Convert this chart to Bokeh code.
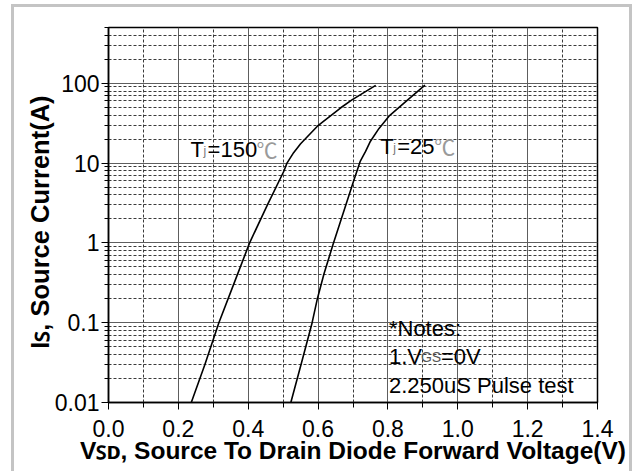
from bokeh.plotting import figure
from bokeh.models import Range1d, FixedTicker, CustomJSTickFormatter, Label, ColumnDataSource
from bokeh.embed import file_html
from bokeh.resources import INLINE

# ---- data ----
V150 = [0.237, 0.276, 0.316, 0.358, 0.404, 0.455, 0.502, 0.511, 0.530, 0.550, 0.598, 0.664, 0.697, 0.765]
I150 = [0.01, 0.03, 0.1, 0.3, 1.0, 3.0, 7.9, 10.0, 13.5, 17.5, 29.0, 49.0, 62.0, 94.0]

V25 = [0.522, 0.553, 0.583, 0.598, 0.617, 0.643, 0.702, 0.721, 0.736, 0.750, 0.774, 0.803, 0.855, 0.906]
I25 = [0.01, 0.032, 0.1, 0.2, 0.41, 0.96, 6.0, 10.6, 14.0, 18.8, 27.0, 38.7, 61.0, 95.0]

x_ticks = [0.0, 0.2, 0.4, 0.6, 0.8, 1.0, 1.2, 1.4]
x_tick_labels = ["0.0", "0.2", "0.4", "0.6", "0.8", "1.0", "1.2", "1.4"]
x_minor = [0.1, 0.3, 0.5, 0.7, 0.9, 1.1, 1.3]

y_ticks = [0.01, 0.1, 1, 10, 100]
y_tick_labels = ["0.01", "0.1", "1", "10", "100"]
y_minor = [m * 10.0 ** e for e in range(-2, 3) for m in range(2, 10) if m * 10.0 ** e <= 500]

x_title = "V\ua731\u1d05, Source To Drain Diode Forward Voltage(V)"
y_title = "I\ua731, Source Current(A)" + "\u00a0" * 2

FONT = "Liberation Sans"

p = figure(width=635, height=471,
           x_range=Range1d(0, 1.4), y_range=Range1d(0.01, 500),
           y_axis_type="log", output_backend="svg", toolbar_location=None,
           min_border_left=108, min_border_right=38,
           min_border_top=27, min_border_bottom=69)
p.background_fill_color = "white"
p.border_fill_color = "white"
p.border_fill_alpha = 0.0
p.outline_line_color = "black"
p.outline_line_width = 1.5
_g = "linear-gradient(#c4c4c4,#c4c4c4)"
p.styles = {
    "background": (f"{_g} 11px 4px / 3px 467px no-repeat, "
                   f"{_g} 11px 4px / 621px 3px no-repeat, "
                   f"{_g} 629px 4px / 3px 467px no-repeat, white"),
}

xt = FixedTicker(ticks=x_ticks, minor_ticks=x_minor)
yt = FixedTicker(ticks=y_ticks, minor_ticks=y_minor)
p.xaxis.ticker = xt
p.yaxis.ticker = yt
p.xgrid.ticker = xt
p.ygrid.ticker = yt

fmt_code = """
let best = 0; let d = Infinity;
for (let i = 0; i < vals.length; i++) {
  const e = Math.abs(Math.log(Math.abs(vals[i]) + 1e-9) - Math.log(Math.abs(tick) + 1e-9));
  if (e < d) { d = e; best = i; }
}
return labels[best];
"""
p.xaxis.formatter = CustomJSTickFormatter(args=dict(vals=x_ticks, labels=x_tick_labels), code=fmt_code)
p.yaxis.formatter = CustomJSTickFormatter(args=dict(vals=y_ticks, labels=y_tick_labels), code=fmt_code)

for ax in (p.xaxis, p.yaxis):
    ax.axis_line_color = "black"
    ax.axis_line_width = 1.5
    ax.major_tick_line_color = "black"
    ax.minor_tick_line_color = "black"
    ax.major_tick_in = 0
    ax.minor_tick_in = 0
    ax.major_label_text_font = FONT
    ax.major_label_text_color = "black"
    ax.axis_label_text_font = FONT
    ax.axis_label_text_font_style = "bold"
    ax.axis_label_text_color = "black"

p.xaxis.major_tick_out = 7
p.xaxis.minor_tick_out = 5
p.xaxis.major_label_text_font_size = "23px"
p.xaxis.major_label_standoff = 10
p.xaxis.axis_label = x_title
p.xaxis.axis_label_text_font_size = "24.5px"
p.xaxis.axis_label_standoff = -3

p.yaxis.major_tick_out = 7
p.yaxis.minor_tick_out = 4
p.yaxis.major_label_text_font_size = "23px"
p.yaxis.major_label_standoff = 2
p.yaxis.axis_label = y_title
p.yaxis.axis_label_text_font_size = "25.5px"
p.yaxis.axis_label_standoff = -2

for g in (p.xgrid, p.ygrid):
    g.grid_line_color = "#5e5e5e"
    g.grid_line_width = 1
    g.minor_grid_line_color = "#3a3a3a"
    g.minor_grid_line_dash = "3 2"
    g.minor_grid_line_width = 1

s150 = ColumnDataSource(dict(v=V150, i=I150))
s25 = ColumnDataSource(dict(v=V25, i=I25))
p.line("v", "i", source=s150, line_color="black", line_width=1.6)
p.line("v", "i", source=s25, line_color="black", line_width=1.6)


def lab(x, y, text, xo=0, yo=0, size="22px", style="normal", color="black",
        font=FONT):
    p.add_layout(Label(x=x, y=y, text=text, x_offset=xo, y_offset=yo + 7,
                       text_font=font, text_font_size=size, text_font_style=style,
                       text_color=color, text_align="left", text_baseline="alphabetic"))


# curve labels
for (lx, ly, t) in [(0.235, 12.2, "=150"), (0.778, 13.3, "=25")]:
    lab(lx, ly, "T")
    lab(lx, ly, "j", xo=13, yo=-2, size="12px", color="#777777")
    lab(lx, ly, t, xo=17)
    lab(lx, ly, "\u2103", xo=17 + (49 if t == "=150" else 37), size="21px",
        color="#9a9a9a", font="Noto Sans CJK SC")

# notes
lab(0.8, 0.01, "*Notes:", xo=1, yo=67)
lab(0.8, 0.01, "1.V", xo=1, yo=39)
lab(0.8, 0.01, "GS", xo=33, yo=39, size="14px", color="#555555")
lab(0.8, 0.01, "=0V", xo=53, yo=39)
lab(0.8, 0.01, "2.250uS Pulse test", xo=1, yo=10)

open("out.html", "w").write(file_html(p, INLINE))
